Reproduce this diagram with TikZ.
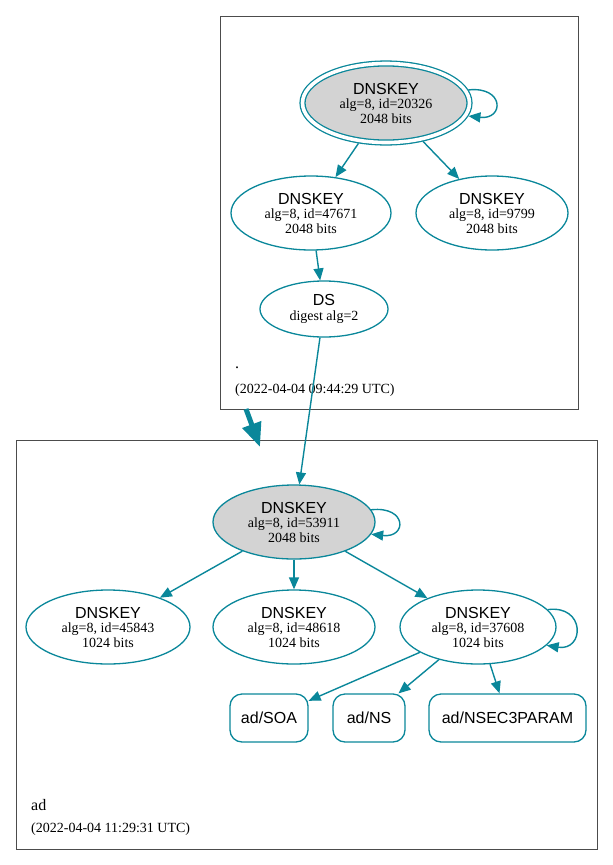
\documentclass[tikz,border=0pt]{standalone}
\usepackage{fontspec}
\setmainfont{Liberation Serif}
\setsansfont{Liberation Sans}
\usetikzlibrary{shapes.geometric,arrows.meta}
\definecolor{dnsteal}{HTML}{0A879A}
\definecolor{keyfill}{HTML}{D3D3D3}
\newcommand{\keyhead}[1]{{\sffamily\fontsize{16}{16}\selectfont #1}}
\newcommand{\keytext}[2]{\keyhead{DNSKEY}\\alg=8, id=#1\\#2 bits}
\tikzset{
	every dnskey/.style={
		ellipse,
		draw=dnsteal,
		line width=1.3pt,
		inner sep=0pt,
		minimum height=74,
		align=center,
		font=\fontsize{14}{14.5}\selectfont
	},
	dnskey sep/.style={
		fill=keyfill
	},
	dnskey trust/.style={
		double=white,
		double distance=3.6pt,
		outer sep=3.1pt
	},
	every rrset/.style={
		rectangle,
		rounded corners=12pt,
		draw=dnsteal,
		line width=1.3pt,
		minimum height=48,
		inner sep=0pt,
		font=\sffamily\fontsize{16}{16}\selectfont
	},
	zone/.style={draw=black!70, line width=0.8pt},
	zone name/.style={anchor=west, inner sep=0pt, font=\fontsize{16}{16}\selectfont},
	zone time/.style={anchor=west, inner sep=0pt, font=\fontsize{14}{14}\selectfont},
	edge/.style={->, draw=dnsteal, line width=1.4pt},
	delegation/.style={-{Triangle[length=24pt,width=19pt]}, draw=dnsteal, line width=5pt},
}
\begin{document}
\begin{tikzpicture}[x=1pt, y=-1pt, >={Triangle[length=12pt,width=10pt]}]
\useasboundingbox (0,0) rectangle (613,865);

% zone boxes
\draw [zone] (220,16) rectangle (578,409);
\draw [zone] (16,440) rectangle (597,849);
\node [zone name] (root-name) at (235,368) {.};
\node [zone time] (root-time) at (235,390) {(2022-04-04 09:44:29 UTC)};
\node [zone name] (ad-name) at (31,805) {ad};
\node [zone time] (ad-time) at (31,829) {(2022-04-04 11:29:31 UTC)};

% root zone
\node [every dnskey, dnskey sep, dnskey trust, minimum width=167, minimum height=79] (root-20326) at (386,103) {\keytext{20326}{2048}};

\foreach \id/\x/\w in {47671/311/160, 9799/492/152}
	\node [every dnskey, minimum width=\w] (root-\id) at (\x,213) {\keytext{\id}{2048}};

\node [every dnskey, minimum width=128, minimum height=56] (root-ds) at (324,309) {\keyhead{DS}\\digest alg=2};

% ad zone
\node [every dnskey, dnskey sep, minimum width=162] (ad-53911) at (294,522) {\keytext{53911}{2048}};

\foreach \id/\x/\w in {45843/108/164, 48618/294/162, 37608/478/156}
	\node [every dnskey, minimum width=\w] (ad-\id) at (\x,627) {\keytext{\id}{1024}};

\foreach \n/\x/\w in {SOA/269/78, NS/369/72, NSEC3PARAM/507.5/157}
	\node [every rrset, minimum width=\w] (ad-\n) at (\x,718) {ad/\n};

% edges
\foreach \j in {47671, 9799}
	\draw [edge] (root-20326) -- (root-\j);
\draw [edge] (root-47671) -- (root-ds);
\draw [edge] (root-ds) -- (ad-53911);

\foreach \j in {45843, 48618, 37608}
	\draw [edge] (ad-53911) -- (ad-\j);
\foreach \j in {SOA, NS, NSEC3PARAM}
	\draw [edge] (ad-37608) -- (ad-\j);

% self signatures
\draw [edge] (root-20326.9) .. controls +(36,-4) and +(36,4) .. (root-20326.-9);
\draw [edge] (ad-53911.9) .. controls +(36,-4) and +(36,4) .. (ad-53911.-9);
\draw [edge] (ad-37608.14) .. controls +(38,-5) and +(38,6) .. (ad-37608.-15);

% delegation
\coordinate (root-exit) at (246,409);
\coordinate (ad-entry) at (260,447);
\draw [delegation] (root-exit) -- (ad-entry);

\end{tikzpicture}
\end{document}
